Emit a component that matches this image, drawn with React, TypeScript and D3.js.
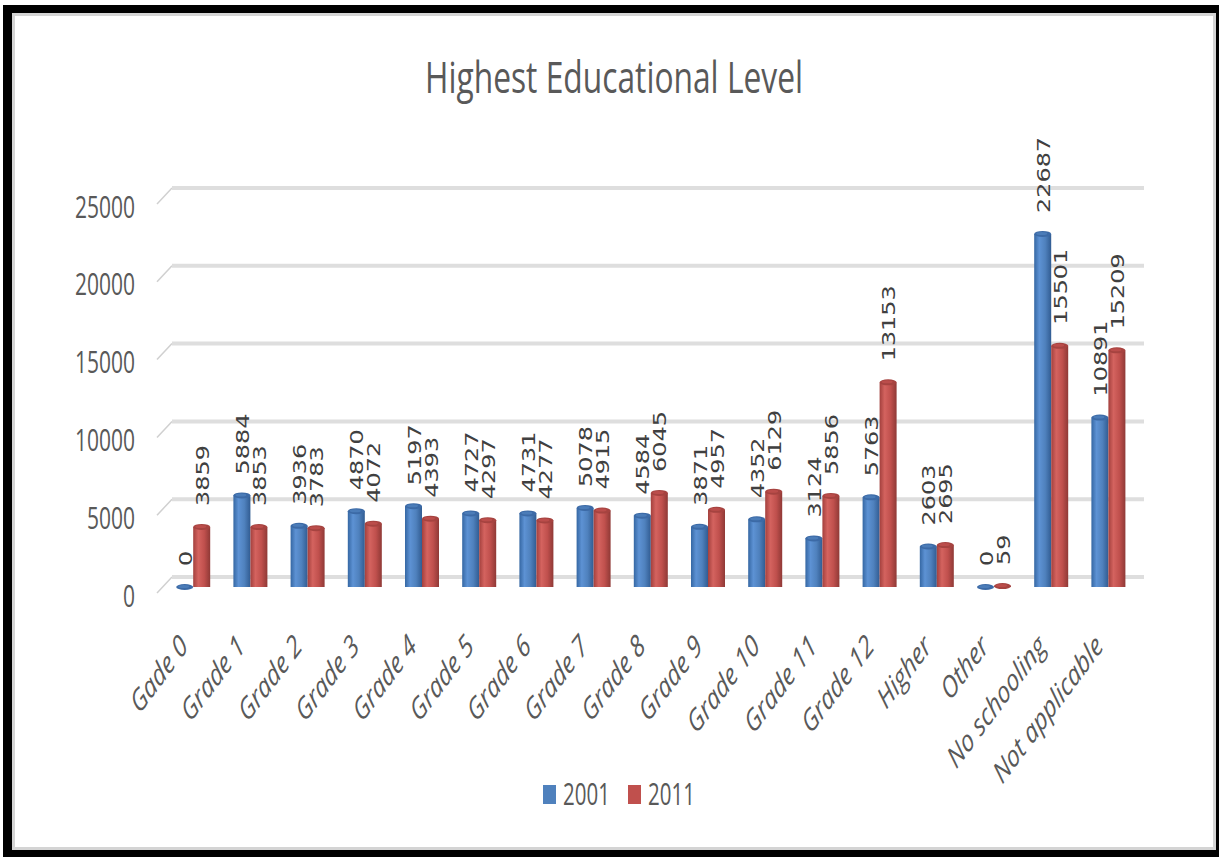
import React from "react";
import * as d3 from "d3";

const categories = [
  "Gade 0", "Grade 1", "Grade 2", "Grade 3", "Grade 4", "Grade 5", "Grade 6",
  "Grade 7", "Grade 8", "Grade 9", "Grade 10", "Grade 11", "Grade 12",
  "Higher", "Other", "No schooling", "Not applicable",
];
const seriesNames = ["2001", "2011"];
const values2001 = [0, 5884, 3936, 4870, 5197, 4727, 4731, 5078, 4584, 3871, 4352, 3124, 5763, 2603, 0, 22687, 10891];
const values2011 = [3859, 3853, 3783, 4072, 4393, 4297, 4277, 4915, 6045, 4957, 6129, 5856, 13153, 2695, 59, 15501, 15209];
const yTicks = [0, 5000, 10000, 15000, 20000, 25000];
const title = "Highest Educational Level";

const W = 1219;
const H = 857;

const colors = ["#4F81BD", "#C0504D"];
const gradStops = [
  ["#3567a3", "#5d92d4", "#4f81bd", "#315c92"],
  ["#a3403d", "#d4635f", "#c0504d", "#8f3936"],
];
const capColors = ["#3c6aa6", "#a64340"];

export default function App() {
  const x0 = d3.scaleBand<string>().domain(categories).range([164.6, 1137]).padding(0);
  const groupW = 34;
  const x1 = d3.scaleBand<string>().domain(seriesNames).range([0, groupW]).padding(0);
  const yGrid = d3.scaleLinear().domain([0, 25000]).range([577, 188]);
  const yBar = d3.scaleLinear().domain([0, 25000]).range([587, 198]);
  const gridX0 = 172;
  const gridX1 = 1144;
  const series = [values2001, values2011];
  const textColor = "#595959";

  return (
    <svg width={W} height={H} style={{ position: "absolute", left: 0, top: 0, display: "block" }}>
      <defs>
        {gradStops.map((s, i) => (
          <linearGradient key={i} id={`g${i}`} x1="0" x2="1" y1="0" y2="0">
            <stop offset="0%" stopColor={s[0]} />
            <stop offset="30%" stopColor={s[1]} />
            <stop offset="65%" stopColor={s[2]} />
            <stop offset="100%" stopColor={s[3]} />
          </linearGradient>
        ))}
      </defs>
      {/* frame */}
      <rect x={0} y={0} width={W} height={H} fill="#ffffff" />
      <rect x={3} y={5} width={W - 3} height={H - 5} fill="#000000" />
      <rect x={12} y={13} width={1204} height={837} fill="#d4d4d4" />
      <rect x={15} y={16} width={1198} height={831} fill="#ffffff" />

      {/* title */}
      <text
        x={425}
        y={93}
        fontFamily="'Open Sans', sans-serif"
        fontSize={43}
        fill={textColor}
        textLength={378}
        lengthAdjust="spacingAndGlyphs"
      >
        {title}
      </text>

      {/* gridlines */}
      {yTicks.map((t) => (
        <g key={t}>
          <line x1={gridX0 - 15} y1={yGrid(t) + 16} x2={gridX0} y2={yGrid(t)} stroke="#d0d0d0" strokeWidth={1.5} />
          <line x1={gridX0} y1={yGrid(t)} x2={gridX1} y2={yGrid(t)} stroke="#dedede" strokeWidth={4} />
          <text
            transform={`translate(135,${yGrid(t) + 18}) scale(1,1.45)`}
            textAnchor="end"
            dominantBaseline="central"
            fontFamily="'Open Sans', sans-serif"
            fontSize={21}
            fill={textColor}
          >
            {t}
          </text>
        </g>
      ))}

      {/* bars */}
      {categories.map((c, i) => (
        <g key={c}>
          {series.map((vals, s) => {
            const bx = (x0(c) as number) + (x0.bandwidth() - groupW) / 2 + (x1(seriesNames[s]) as number);
            const bw = x1.bandwidth();
            const top = yBar(vals[i]);
            const base = yBar(0);
            return (
              <g key={s}>
                <rect x={bx} y={top} width={bw} height={Math.max(0, base - top)} fill={`url(#g${s})`} />
                <ellipse cx={bx + bw / 2} cy={top} rx={bw / 2} ry={3} fill={capColors[s]} />
                <ellipse cx={bx + bw / 2 - 1} cy={top - 0.5} rx={bw / 2 - 3} ry={1.5} fill={colors[s]} opacity={0.8} />
              </g>
            );
          })}
        </g>
      ))}

      {/* data labels */}
      {categories.map((c, i) => (
        <g key={c}>
          {series.map((vals, s) => {
            const bx = (x0(c) as number) + (x0.bandwidth() - groupW) / 2 + (x1(seriesNames[s]) as number);
            const cx = bx + x1.bandwidth() / 2;
            const ty = yBar(vals[i]) - 21;
            return (
              <text
                key={s}
                transform={`translate(${cx + 7},${ty}) rotate(-90) scale(1.33,1)`}
                fontFamily="'DejaVu Sans', sans-serif"
                fontSize={18}
                fill="#404040"
              >
                {vals[i]}
              </text>
            );
          })}
        </g>
      ))}

      {/* category labels */}
      {categories.map((c) => {
        const cx = (x0(c) as number) + x0.bandwidth() / 2;
        return (
          <text
            key={c}
            transform={`translate(${cx - 4},648) scale(1,1.34) rotate(-45)`}
            textAnchor="end"
            fontFamily="'Open Sans', sans-serif"
            fontStyle="italic"
            fontSize={22.5}
            fill={textColor}
          >
            {c}
          </text>
        );
      })}

      {/* legend */}
      {seriesNames.map((n, s) => {
        const lx = s === 0 ? 543 : 628;
        return (
          <g key={n}>
            <rect x={lx} y={785} width={13} height={19} fill={colors[s]} />
            <text
              transform={`translate(${lx + 20},805) scale(1,1.5)`}
              fontFamily="'Open Sans', sans-serif"
              fontSize={20.5}
              fill={textColor}
            >
              {n}
            </text>
          </g>
        );
      })}
    </svg>
  );
}
